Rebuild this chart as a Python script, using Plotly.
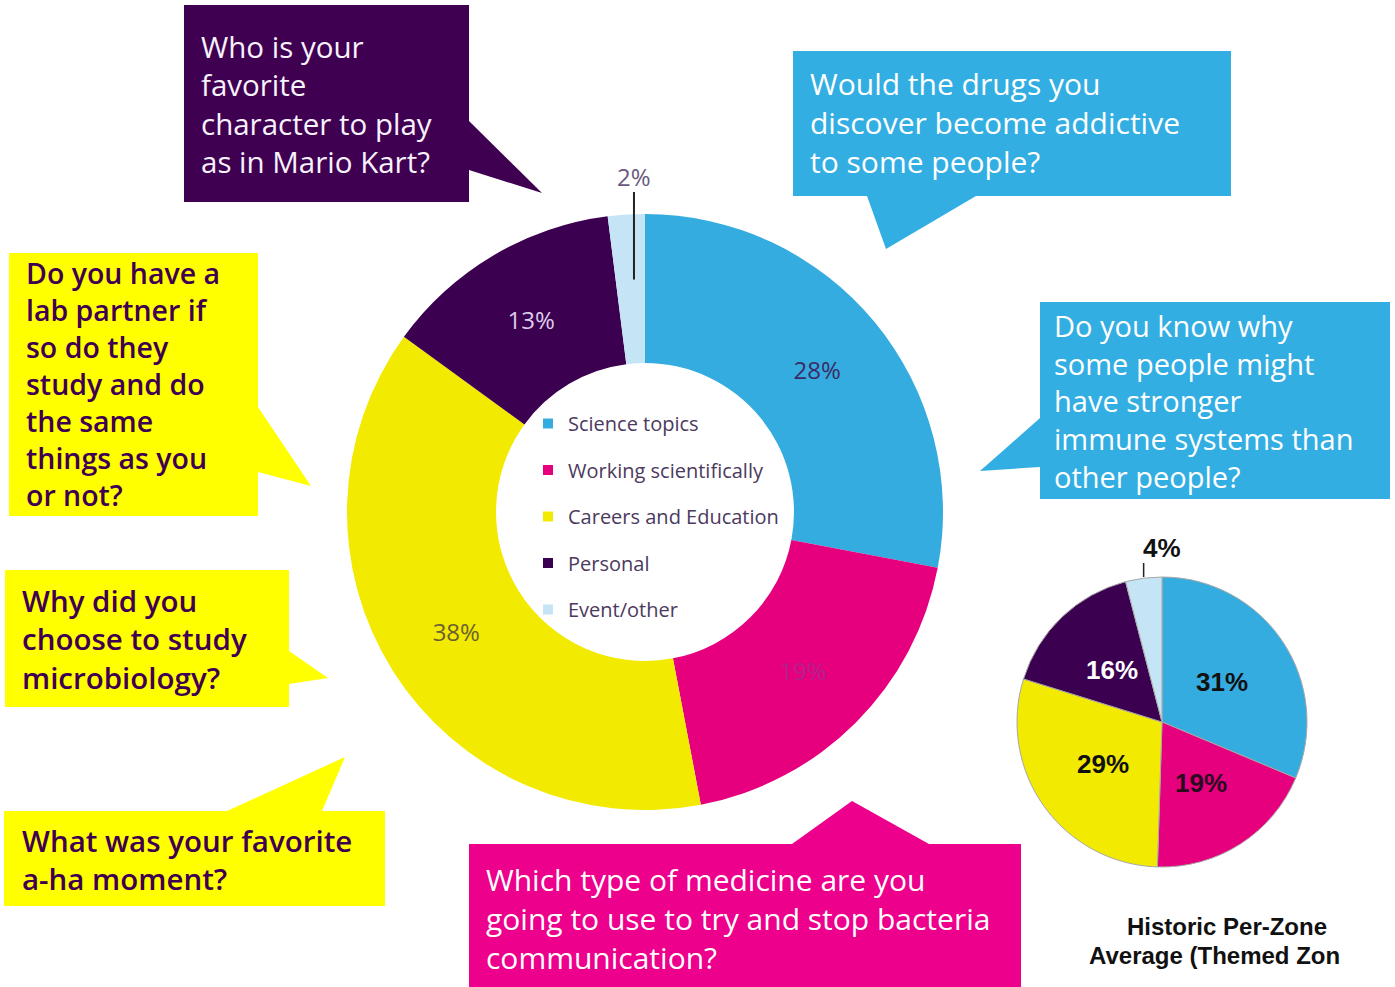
import math
import plotly.graph_objects as go

W, H = 1395, 987

# ---------------- data ----------------
topics = ["Science topics", "Working scientifically", "Careers and Education", "Personal", "Event/other"]
topic_colors = ["#35ACE0", "#E6007E", "#F2EA00", "#3C0050", "#C5E5F7"]
survey_pct = [28, 19, 38, 13, 2]
historic_pct = [31, 19, 29, 16, 4]
historic_title = ["Historic Per-Zone", "Average (Themed Zon"]

questions = [
    ["Who is your", "favorite", "character to play", "as in Mario Kart?"],
    ["Would the drugs you", "discover become addictive", "to some people?"],
    ["Do you know why", "some people might", "have stronger", "immune systems than", "other people?"],
    ["Do you have a", "lab partner if", "so do they", "study and do", "the same", "things as you", "or not?"],
    ["Why did you", "choose to study", "microbiology?"],
    ["What was your favorite", "a-ha moment?"],
    ["Which type of medicine are you", "going to use to try and stop bacteria", "communication?"],
]
box_fill = ["#400052", "#33AEE3", "#33AEE3", "#FFFF00", "#FFFF00", "#FFFF00", "#EC008C"]
box_text = ["#F7F2FB", "#FFFFFF", "#FFFFFF", "#3F0052", "#3F0052", "#3F0052", "#FFFFFF"]

# ---------------- layout geometry (pixels) ----------------
def px(x):
    return x / W

def py(y):
    return 1 - y / H

boxes = [  # x0, y0, x1, y1 of each callout box
    (184, 5, 469, 202),
    (793, 51, 1231, 196),
    (1040, 302, 1390, 499),
    (9, 253, 258, 516),
    (5, 570, 289, 707),
    (4, 811, 385, 906),
    (469, 844, 1021, 992),
]
tails = [
    [(469, 121), (542, 193), (469, 170)],
    [(867, 196), (886, 249), (976, 196)],
    [(1040, 418), (980, 471), (1040, 467)],
    [(258, 407), (311, 486), (258, 472)],
    [(289, 651), (328, 678), (289, 684)],
    [(227, 811), (345, 757), (322, 811)],
    [(792, 844), (852, 801), (929, 844)],
]
text_y = [103.5, 123, 401, 384.5, 639, 859, 918]
text_x = [202, 811, 1055, 27, 23, 23, 487]
weights = ["normal", "normal", "normal", 600, 600, 600, "normal"]
sizes = [29.5, 30, 29, 28.5, 29.5, 29.5, 30]

big_c, big_r = (645, 512), 298
small_c, small_r = (1162, 722), 145

fig = go.Figure()

# Big donut
big_text = [f"{v}%" if v >= 5 else "" for v in survey_pct]
fig.add_trace(go.Pie(
    labels=topics, values=survey_pct, sort=False, direction="clockwise", rotation=0,
    hole=0.5, text=big_text, textinfo="text", textposition="inside",
    insidetextorientation="horizontal",
    insidetextfont=dict(family="Open Sans", size=24,
                        color=["#3B2A66", "#B3208C", "#6B6030", "#DCCDEB", "#333333"]),
    marker=dict(colors=topic_colors, line=dict(width=0)),
    domain=dict(x=[px(big_c[0] - big_r), px(big_c[0] + big_r)],
                y=[py(big_c[1] + big_r), py(big_c[1] - big_r)]),
    showlegend=False, hoverinfo="label+percent",
))

# Small historic pie (labels placed at half radius, like the original)
fig.add_trace(go.Pie(
    labels=topics, values=historic_pct, sort=False, direction="clockwise", rotation=0,
    textinfo="none",
    marker=dict(colors=topic_colors, line=dict(width=1, color="#A8A8A8")),
    domain=dict(x=[px(small_c[0] - small_r), px(small_c[0] + small_r)],
                y=[py(small_c[1] + small_r), py(small_c[1] - small_r)]),
    showlegend=False, hoverinfo="label+percent",
))

# Legend entries (inside the donut hole)
for i, (name, col) in enumerate(zip(topics, topic_colors)):
    fig.add_trace(go.Scatter(
        x=[None], y=[None], mode="markers", name=name, legendgroup=f"g{i}",
        marker=dict(symbol="square", size=10, color=col),
        hoverinfo="skip",
    ))

shapes = []
for (x0, y0, x1, y1), fill in zip(boxes, box_fill):
    shapes.append(dict(type="rect", xref="paper", yref="paper",
                       x0=px(x0), x1=px(x1), y0=py(y1), y1=py(y0),
                       fillcolor=fill, line=dict(width=0), layer="below"))
for pts, fill in zip(tails, box_fill):
    path = "M " + " L ".join(f"{px(x):.5f},{py(y):.5f}" for x, y in pts) + " Z"
    shapes.append(dict(type="path", xref="paper", yref="paper", path=path,
                       fillcolor=fill, line=dict(width=0), layer="below"))

annotations = []
for lines, tc, tx, ty, wt, sz in zip(questions, box_text, text_x, text_y, weights, sizes):
    annotations.append(dict(
        xref="paper", yref="paper", x=px(tx - 2), y=py(ty), xanchor="left", yanchor="middle",
        text="<br>".join(lines), align="left", showarrow=False, borderpad=0,
        font=dict(family="Open Sans", size=sz, color=tc, weight=wt)))

def slice_mid_angle(vals, idx):
    tot = sum(vals)
    start = sum(vals[:idx])
    return (start + vals[idx] / 2) / tot * 2 * math.pi

# Historic pie value labels
small_label_colors = ["#111111", "#2A0A1E", "#111111", "#FFFFFF"]
for i, v in enumerate(historic_pct[:4]):
    ang = slice_mid_angle(historic_pct, i)
    lxp = small_c[0] + 0.5 * small_r * math.sin(ang)
    lyp = small_c[1] - 0.5 * small_r * math.cos(ang)
    annotations.append(dict(xref="paper", yref="paper", x=px(lxp), y=py(lyp), text=f"{v}%",
                            showarrow=False, xanchor="center", yanchor="middle",
                            font=dict(family="Liberation Sans", size=26, weight="bold",
                                      color=small_label_colors[i])))

# Small-slice callouts computed from data
a = slice_mid_angle(survey_pct, 4)
lx = big_c[0] + (big_r * 0.75) * math.sin(a) + 3
shapes.append(dict(type="line", xref="paper", yref="paper",
                   x0=px(lx), x1=px(lx), y0=py(big_c[1] - big_r * 0.78), y1=py(192),
                   line=dict(color="#222222", width=2)))
annotations.append(dict(xref="paper", yref="paper", x=px(lx), y=py(176), text=f"{survey_pct[4]}%",
                        showarrow=False, xanchor="center", yanchor="middle",
                        font=dict(family="Open Sans", size=24, color="#6A5A7E")))

a2 = slice_mid_angle(historic_pct, 4)
sx = small_c[0] + small_r * math.sin(a2)
shapes.append(dict(type="line", xref="paper", yref="paper",
                   x0=px(sx), x1=px(sx), y0=py(small_c[1] - small_r), y1=py(563),
                   line=dict(color="#222222", width=1.5)))
annotations.append(dict(xref="paper", yref="paper", x=px(sx + 18), y=py(548), text=f"{historic_pct[4]}%",
                        showarrow=False, xanchor="center", yanchor="middle",
                        font=dict(family="Liberation Sans", size=26, weight="bold", color="#111111")))

annotations.append(dict(xref="paper", yref="paper", x=px(1227), y=py(926), text=historic_title[0],
                        showarrow=False, xanchor="center", yanchor="middle",
                        font=dict(family="Liberation Sans", size=24, weight="bold", color="#111111")))
annotations.append(dict(xref="paper", yref="paper", x=px(1087), y=py(955), text=historic_title[1],
                        showarrow=False, xanchor="left", yanchor="middle",
                        font=dict(family="Liberation Sans", size=24, weight="bold", color="#111111")))

fig.update_layout(
    width=W, height=H, margin=dict(l=0, r=0, t=0, b=0),
    paper_bgcolor="white", plot_bgcolor="white",
    xaxis=dict(visible=False), yaxis=dict(visible=False),
    shapes=shapes, annotations=annotations,
    showlegend=True,
    legend=dict(x=px(528), y=py(404), xanchor="left", yanchor="top",
                bgcolor="rgba(0,0,0,0)", tracegroupgap=17.5,
                font=dict(family="Open Sans", size=20, color="#4B3A5E")),
)

fig.write_html("out.html", config={"displayModeBar": False},
               post_script="document.body.style.margin='0';document.body.style.overflow='hidden';")
